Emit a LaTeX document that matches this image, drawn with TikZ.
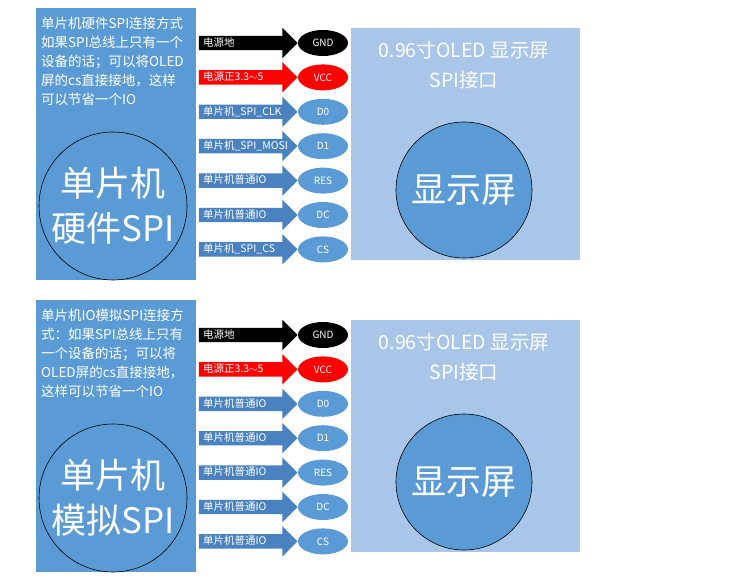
\documentclass[tikz,border=0pt]{standalone}
\usepackage{fontspec}
\setmainfont{Noto Sans CJK SC}
\usetikzlibrary{shapes.geometric, shapes.arrows, positioning}
\definecolor{mcublue}{HTML}{5B9BD5}
\definecolor{pinblue}{HTML}{4A82C0}
\definecolor{oledblue}{HTML}{A9C6E8}
\tikzset{every node/.append style={inner sep=0pt}}

\begin{document}
\begin{tikzpicture}[
    x=1pt, y=1pt, node distance=8pt,
    mcu/.style={rectangle, fill=mcublue, minimum width=160pt, minimum height=272pt},
    oled/.style={rectangle, fill=oledblue, minimum width=229pt, minimum height=232pt},
    core/.style={circle, draw=black, fill=mcublue, line width=0.6pt, text=white,
        align=center, font=\fontsize{35}{45}\selectfont},
    note/.style={anchor=north west, text=white, align=left, font=\fontsize{13.5}{19}\selectfont},
    title/.style={text=white, align=center, font=\fontsize{19.5}{24}\selectfont},
    pin/.style={ellipse, fill=mcublue, minimum width=50pt, minimum height=26pt,
        text=white, font=\fontsize{10}{11}\selectfont},
    wire/.style={single arrow, fill=pinblue, single arrow head extend=8pt,
        single arrow tip angle=90, text width=83pt, inner xsep=4pt, inner ysep=2.75pt,
        text height=7.5pt, text depth=1pt, text=white, align=left, anchor=tip,
        font=\fontsize{10.5}{11}\selectfont}
]
\useasboundingbox (0,0) rectangle (750,-588);

% hardware SPI
\node[mcu] (mcu1) at (116,-144) {};
\node[note] (txt1) at (41,-17) {单片机硬件SPI连接方式\\如果SPI总线上只有一个\\设备的话；可以将OLED\\屏的cs直接接地，这样\\可以节省一个IO};
\node[core, minimum size=148pt] (c1) at (113,-206) {单片机\\硬件SPI};
\node[oled] (lcd1) at (465.5,-144) {};
\node[title] (t1) at (464,-65) {0.96寸OLED 显示屏\\[6pt]SPI接口};
\node[core, minimum size=136pt] (s1) at (464,-190) {显示屏};
\node[pin, fill=black] (gnd1) at (323,-43) {GND};
\node[pin, fill=red, below=of gnd1] (vcc1) {VCC};
\node[pin, below=of vcc1] (d01) {D0};
\node[pin, below=of d01] (d11) {D1};
\node[pin, below=of d11] (res1) {RES};
\node[pin, below=of res1] (dc1) {DC};
\node[pin, below=of dc1] (cs1) {CS};
\node[wire, fill=black] (w11) at (gnd1.west) {电源地};
\node[wire, fill=red] (w12) at (vcc1.west) {电源正3.3$\sim$5};
\node[wire] (w13) at (d01.west) {单片机\_SPI\_CLK};
\node[wire] (w14) at (d11.west) {单片机\_SPI\_MOSI};
\node[wire] (w15) at (res1.west) {单片机普通IO};
\node[wire] (w16) at (dc1.west) {单片机普通IO};
\node[wire] (w17) at (cs1.west) {单片机\_SPI\_CS};

% software SPI
\node[mcu] (mcu2) at (116,-436) {};
\node[note] (txt2) at (41,-309) {单片机IO模拟SPI连接方\\式：如果SPI总线上只有\\一个设备的话；可以将\\OLED屏的cs直接接地，\\这样可以节省一个IO};
\node[core, minimum size=148pt] (c2) at (113,-498) {单片机\\模拟SPI};
\node[oled] (lcd2) at (465.5,-436) {};
\node[title] (t2) at (464,-357) {0.96寸OLED 显示屏\\[6pt]SPI接口};
\node[core, minimum size=136pt] (s2) at (464,-482) {显示屏};
\node[pin, fill=black] (gnd2) at (323,-335) {GND};
\node[pin, fill=red, below=of gnd2] (vcc2) {VCC};
\node[pin, below=of vcc2] (d02) {D0};
\node[pin, below=of d02] (d12) {D1};
\node[pin, below=of d12] (res2) {RES};
\node[pin, below=of res2] (dc2) {DC};
\node[pin, below=of dc2] (cs2) {CS};
\node[wire, fill=black] (w21) at (gnd2.west) {电源地};
\node[wire, fill=red] (w22) at (vcc2.west) {电源正3.3$\sim$5};
\node[wire] (w23) at (d02.west) {单片机普通IO};
\node[wire] (w24) at (d12.west) {单片机普通IO};
\node[wire] (w25) at (res2.west) {单片机普通IO};
\node[wire] (w26) at (dc2.west) {单片机普通IO};
\node[wire] (w27) at (cs2.west) {单片机普通IO};
\end{tikzpicture}
\end{document}
